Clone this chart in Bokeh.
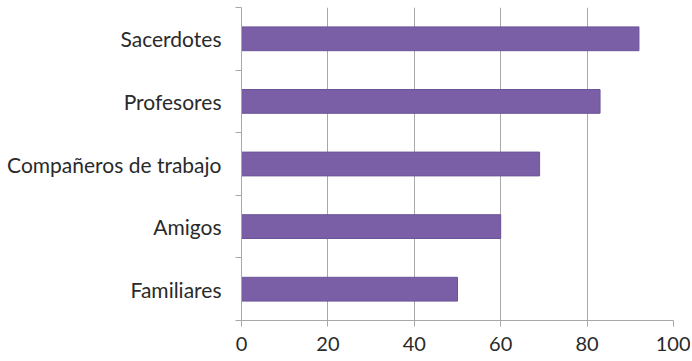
from bokeh.plotting import figure
from bokeh.models import Range1d, FixedTicker
from bokeh.embed import file_html
from bokeh.resources import INLINE

# Data (bottom to top)
categories = ["Familiares", "Amigos", "Compañeros de trabajo", "Profesores", "Sacerdotes"]
values = [50, 60, 69, 83, 92]
x_ticks = [0, 20, 40, 60, 80, 100]

n = len(categories)
ypos = [i + 0.5 for i in range(n)]

FONT = "Lato"
GRID = "#a8a8a8"
TEXT = "#2a2a2a"

p = figure(
    frame_width=432, frame_height=313,
    x_range=Range1d(0, 100), y_range=Range1d(0, n),
    output_backend="svg", toolbar_location=None,
    min_border_left=241, min_border_right=17, min_border_top=7, min_border_bottom=10,
)
p.outline_line_color = None
p.background_fill_color = "white"

p.hbar(y=ypos, right=values, left=0, height=0.38,
       fill_color="#7a5fa6", line_color="#6d5499", line_width=1)

# x axis
p.xaxis.ticker = FixedTicker(ticks=x_ticks)
p.xaxis.axis_line_color = GRID
p.xaxis.major_tick_line_color = GRID
p.xaxis.major_tick_out = 6
p.xaxis.major_tick_in = 0
p.xaxis.minor_tick_line_color = None
p.xaxis.major_label_text_font = FONT
p.xaxis.major_label_text_font_size = "20px"
p.xaxis.major_label_text_color = TEXT
p.xaxis.major_label_standoff = 10

# y axis
p.yaxis.ticker = FixedTicker(ticks=ypos, minor_ticks=list(range(n + 1)))
p.yaxis.major_label_overrides = {y: c for y, c in zip(ypos, categories)}
p.yaxis.axis_line_color = GRID
p.yaxis.major_tick_line_color = None
p.yaxis.major_tick_out = 0
p.yaxis.major_tick_in = 0
p.yaxis.minor_tick_line_color = GRID
p.yaxis.minor_tick_out = 6
p.yaxis.minor_tick_in = 0
p.yaxis.major_label_text_font = FONT
p.yaxis.major_label_text_font_size = "21px"
p.yaxis.major_label_text_color = TEXT
p.yaxis.major_label_standoff = 14

p.xgrid.ticker = FixedTicker(ticks=x_ticks)
p.xgrid.grid_line_color = GRID
p.xgrid.grid_line_width = 1
p.ygrid.grid_line_color = None

open("out.html", "w").write(file_html(p, INLINE))
